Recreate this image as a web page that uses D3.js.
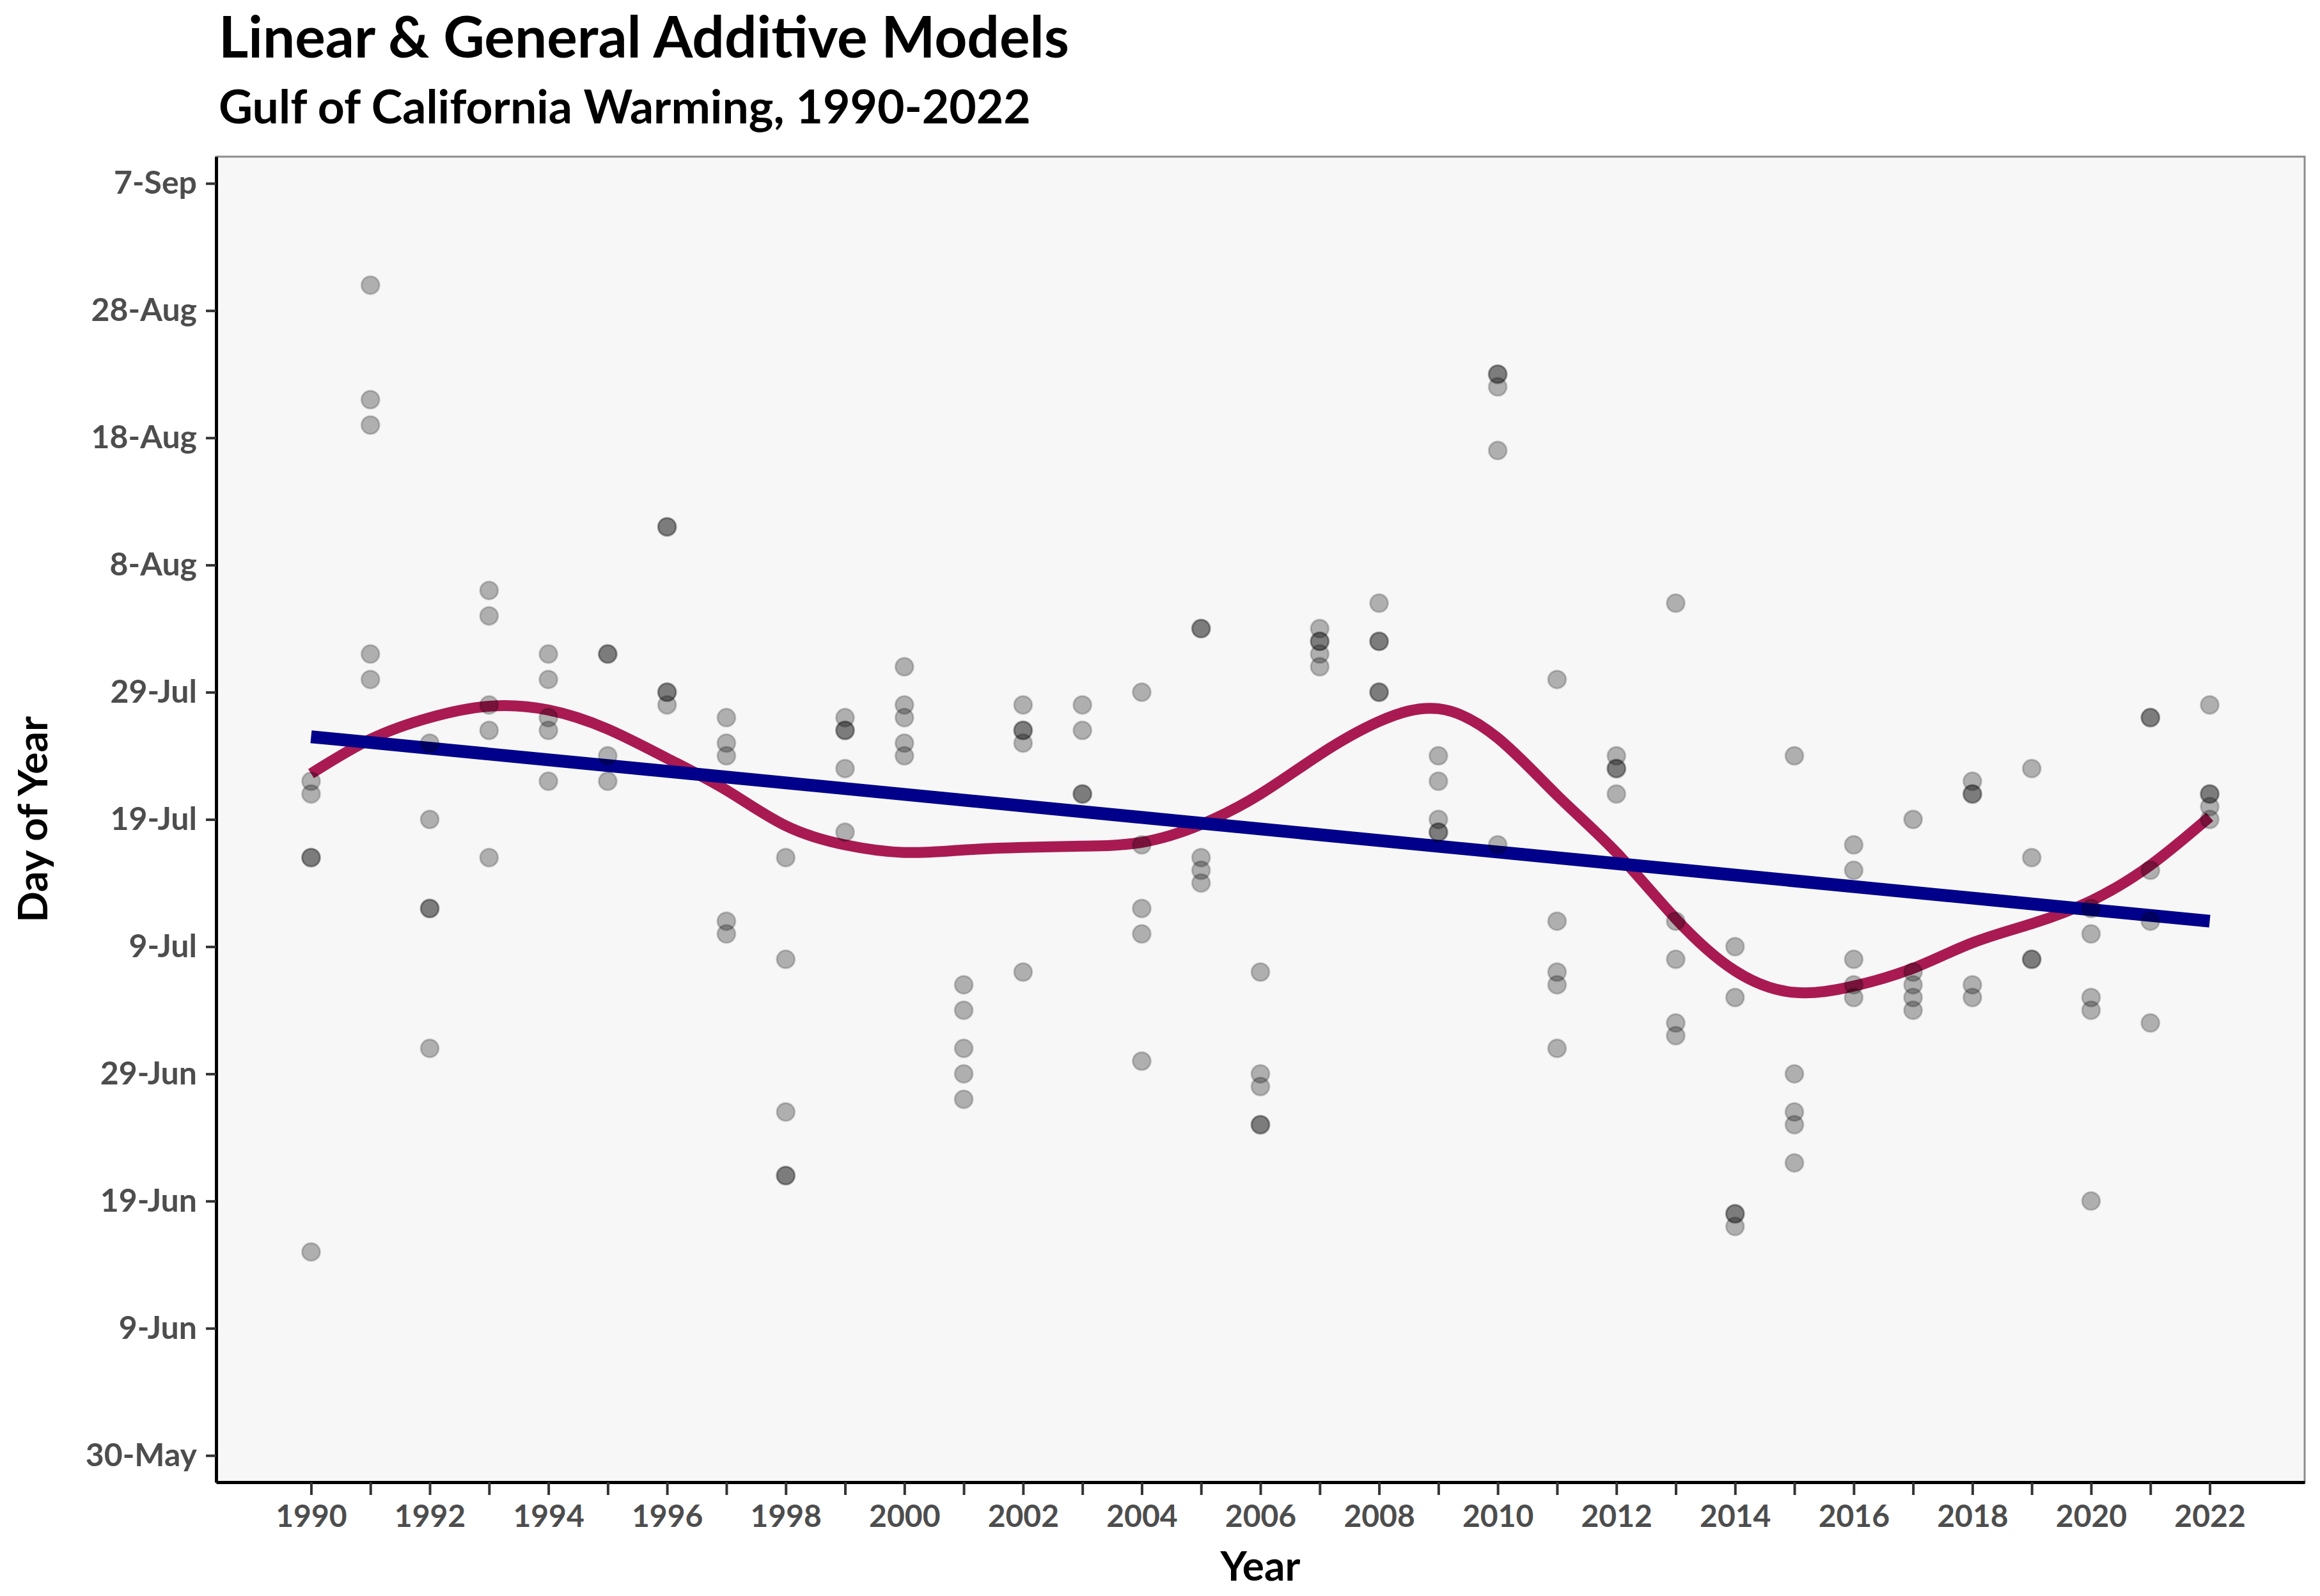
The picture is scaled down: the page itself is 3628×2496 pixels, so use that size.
<!DOCTYPE html>
<html><head><meta charset="utf-8">
<script src="https://cdn.jsdelivr.net/npm/d3@7"></script>
<style>body{margin:0;background:#fff}</style>
</head><body><svg id="chart"></svg>
<script>
// ---------- data ----------
const years = [1990,1991,1992,1993,1994,1995,1996,1997,1998,1999,2000,2001,2002,2003,2004,2005,2006,2007,2008,2009,2010,2011,2012,2013,2014,2015,2016,2017,2018,2019,2020,2021,2022];
// day-of-year observations per year
const dayValues = [
 [203,202,197,197,166],
 [242,233,231,213,211],
 [206,200,193,193,182],
 [218,216,209,207,197],
 [213,211,208,207,203],
 [213,213,205,203],
 [223,223,210,210,209],
 [208,206,205,192,191],
 [197,189,177,172,172],
 [208,207,207,204,199],
 [212,209,208,206,205],
 [187,185,182,180,178],
 [209,207,207,206,188],
 [209,207,202,202],
 [210,198,193,191,181],
 [215,215,197,196,195],
 [188,180,179,176,176],
 [215,214,214,213,212],
 [217,214,214,210,210],
 [205,203,200,199,199],
 [235,235,234,229,198],
 [211,192,188,187,182],
 [205,204,204,202],
 [217,192,189,184,183],
 [190,186,169,169,168],
 [205,180,177,176,173],
 [198,196,189,187,186],
 [200,188,187,186,185],
 [203,202,202,187,186],
 [204,197,189,189],
 [193,191,186,185,170],
 [208,208,196,192,184],
 [209,202,202,201,200]
];
// GAM smooth read per year
const gamFit = [203.6,206.3,208.0,208.9,208.6,207.1,204.8,202.3,199.5,198.0,197.4,197.6,197.8,197.9,198.2,199.6,202.0,205.1,207.7,208.7,206.4,201.9,197.4,192.2,188.1,186.4,186.9,188.3,190.3,191.8,193.6,196.4,200.2];
// linear model endpoints
const lmYears = [1990, 2022];
const lmFit = [206.5, 192.0];
// axis ticks
const yTickDays = [150,160,170,180,190,200,210,220,230,240,250];
const yTickLabels = ["30-May","9-Jun","19-Jun","29-Jun","9-Jul","19-Jul","29-Jul","8-Aug","18-Aug","28-Aug","7-Sep"];
const xTickYears = years;
const titleText = "Linear & General Additive Models";
const subtitleText = "Gulf of California Warming, 1990-2022";

// ---------- layout ----------
const W = 3628, H = 2496;
const P = {left: 338, right: 3604, top: 245, bottom: 2318};
const FONT = "Lato, 'Open Sans', sans-serif";

const svg = d3.select("#chart").attr("width", W).attr("height", H)
  .style("font-family", FONT);
svg.append("rect").attr("width", W).attr("height", H).attr("fill", "#fff");

const x = d3.scaleLinear().domain([1988.4, 2023.6]).range([P.left, P.right]);
const y = d3.scaleLinear().domain([147.9, 252.1]).range([P.bottom, P.top]);

// panel
svg.append("rect").attr("x", P.left).attr("y", P.top)
  .attr("width", P.right - P.left).attr("height", P.bottom - P.top)
  .attr("fill", "#f7f7f7").attr("stroke", "#8c8c8c").attr("stroke-width", 3);

// lines
const gamData = years.map((yr, i) => [yr, gamFit[i]]);
const lmData = lmYears.map((yr, i) => [yr, lmFit[i]]);
const line = d3.line().x(d => x(d[0])).y(d => y(d[1])).curve(d3.curveNatural);

svg.append("path").datum(gamData).attr("d", line)
  .attr("fill", "none").attr("stroke", "#a91a52").attr("stroke-width", 17)
  .attr("stroke-linecap", "butt");
svg.append("path").datum(lmData).attr("d", d3.line().x(d => x(d[0])).y(d => y(d[1])))
  .attr("fill", "none").attr("stroke", "#00008b").attr("stroke-width", 20);

// points
const obs = [];
years.forEach((yr, i) => dayValues[i].forEach(v => obs.push({yr, v})));
svg.append("g").selectAll("circle").data(obs).join("circle")
  .attr("cx", d => x(d.yr)).attr("cy", d => y(d.v)).attr("r", 14)
  .attr("fill", "#000").attr("fill-opacity", 0.29)
  .attr("stroke", "#000").attr("stroke-opacity", 0.18).attr("stroke-width", 3);

// axes
const yAxis = d3.axisLeft(y).tickValues(yTickDays)
  .tickFormat((d, i) => yTickLabels[i]).tickSize(16).tickSizeOuter(0).tickPadding(14);
const gy = svg.append("g").attr("transform", `translate(${P.left},0)`).call(yAxis);
gy.select(".domain").attr("stroke", "#000").attr("stroke-width", 5);
gy.selectAll(".tick line").attr("stroke", "#333").attr("stroke-width", 4);
gy.selectAll(".tick text").attr("fill", "#4d4d4d").style("font-size", "50px")
  .style("font-weight", "700").style("font-family", FONT);

const xAxis = d3.axisBottom(x).tickValues(xTickYears)
  .tickFormat(d => d % 2 === 0 ? String(d) : "").tickSize(20).tickSizeOuter(0).tickPadding(16);
const gx = svg.append("g").attr("transform", `translate(0,${P.bottom})`).call(xAxis);
gx.select(".domain").attr("stroke", "#000").attr("stroke-width", 5);
gx.selectAll(".tick line").attr("stroke", "#333").attr("stroke-width", 4);
gx.selectAll(".tick text").attr("fill", "#4d4d4d").style("font-size", "48px")
  .style("font-weight", "700").style("font-family", FONT);

// axis titles
svg.append("text").attr("x", (P.left + P.right) / 2).attr("y", 2472)
  .attr("text-anchor", "middle").style("font-size", "64px").style("font-weight", "700")
  .attr("fill", "#000").text("Year");
svg.append("text").attr("transform", `translate(74,${(P.top + P.bottom) / 2}) rotate(-90)`)
  .attr("text-anchor", "middle").style("font-size", "64px").style("font-weight", "700")
  .attr("fill", "#000").text("Day of Year");

// titles
function fitText(sel, target) {
  const w = sel.node().getComputedTextLength();
  const fs = parseFloat(sel.style("font-size"));
  sel.style("font-size", (fs * target / w) + "px");
}
const t1 = svg.append("text").attr("x", 342).attr("y", 90)
  .style("font-size", "84px").style("font-weight", "700").attr("fill", "#000").text(titleText);
fitText(t1, 1330);
const t2 = svg.append("text").attr("x", 342).attr("y", 193)
  .style("font-size", "66px").style("font-weight", "700").attr("fill", "#000").text(subtitleText);
fitText(t2, 1270);
</script>
</body></html>
